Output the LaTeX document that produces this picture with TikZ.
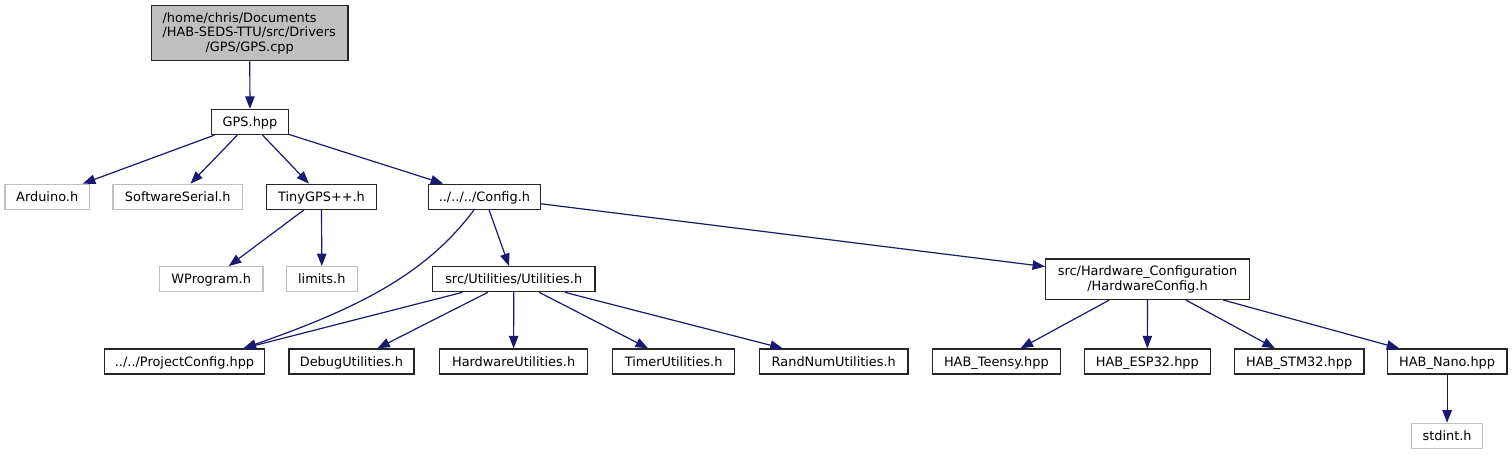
\documentclass[tikz,border=0pt]{standalone}
\usepackage{fontspec}
\setmainfont{DejaVu Sans}
\usetikzlibrary{arrows.meta,calc}
\definecolor{edgec}{HTML}{191970}
\definecolor{greyl}{HTML}{BFBFBF}
\begin{document}
\begin{tikzpicture}[x=1pt,y=-1pt,
  every node/.style={font=\fontsize{12.9}{14.5}\selectfont},
  box/.style={draw=black!85,line width=1.3pt,rectangle,inner sep=0pt,minimum height=25pt,text height=12.2pt,text depth=3pt},
  ext/.style={box,draw=greyl},
  txt/.style={inner sep=0pt},
  link/.style={draw=edgec,line width=1.2pt,-{Triangle[length=12.5pt,width=9.5pt]}}]
\fill[white] (0,0) rectangle (1512,455);
\useasboundingbox (0,0) rectangle (1512,455);

% root
\node[box,fill=greyl,minimum width=196.5pt,minimum height=55pt] (cpp) at (249.7,33.2) {};
\node[txt,anchor=base west] (cppa) at ($(cpp.north west)+(11.6,17)$) {/home/chris/Documents};
\node[txt,anchor=base west] (cppb) at ($(cpp.north west)+(11.6,31.5)$) {/HAB-SEDS-TTU/src/Drivers};
\node[txt,anchor=base] (cppc) at ($(cpp.north)+(0,46)$) {/GPS/GPS.cpp};

\node[box,minimum width=76.6pt] (gpsh) at (250,122) {GPS.hpp};

% row 2
\node[ext,minimum width=84.4pt] (ard) at (47.2,196.8) {Arduino.h};
\node[ext,minimum width=129.7pt] (ss) at (177.8,196.8) {SoftwareSerial.h};
\node[box,minimum width=109.8pt] (tiny) at (321.5,196.8) {TinyGPS++.h};
\node[box,minimum width=111.6pt] (cfg) at (484.4,196.8) {../../../Config.h};

% row 3
\node[ext,minimum width=103.8pt] (wprog) at (211.2,279.2) {WProgram.h};
\node[ext,minimum width=70.9pt] (lim) at (321.8,279.2) {limits.h};
\node[box,minimum width=162.5pt] (util) at (513.7,279.2) {src/Utilities/Utilities.h};
\node[box,minimum width=203.6pt,minimum height=40.3pt,align=center,text height=,text depth=] (hc) at (1147.5,279.2) {src/Hardware\_Configuration\\/HardwareConfig.h};

% row 4
\node[box,minimum width=160.4pt] (proj) at (184.5,361.5) {../../ProjectConfig.hpp};
\node[box,minimum width=125pt] (dbg) at (351.5,361.5) {DebugUtilities.h};
\node[box,minimum width=148.2pt] (hwu) at (513.6,361.5) {HardwareUtilities.h};
\node[box,minimum width=122.3pt] (tim) at (673.6,361.5) {TimerUtilities.h};
\node[box,minimum width=148.2pt] (rnd) at (833.8,361.5) {RandNumUtilities.h};
\node[box,minimum width=127.9pt] (teen) at (996.4,361.5) {HAB\_Teensy.hpp};
\node[box,minimum width=125.7pt] (esp) at (1147.3,361.5) {HAB\_ESP32.hpp};
\node[box,minimum width=129.4pt] (stm) at (1299.2,361.5) {HAB\_STM32.hpp};
\node[box,minimum width=119.7pt] (nano) at (1447.1,361.5) {HAB\_Nano.hpp};

% row 5
\node[ext,minimum width=71pt] (std) at (1447.1,435.8) {stdint.h};

\coordinate (projin) at ($(proj.north)+(59,0)$);

% edges
\draw[link] (cpp) -- (gpsh);
\draw[link] (gpsh) -- (ard);
\draw[link] (gpsh) -- (ss);
\draw[link] (gpsh) -- (tiny);
\draw[link] (gpsh) -- (cfg);
\draw[link] (tiny) -- (wprog);
\draw[link] (tiny) -- (lim);
\draw[link] ($(cfg.south)+(-10.4,0)$) .. controls ($(cfg.south)+(-59.4,65.7)$) and ($(proj.north)+(170.5,-39)$) .. (projin);
\draw[link] (cfg) -- (util);
\draw[link] (cfg) -- (hc);
\draw[link] (util) -- (projin);
\draw[link] (util) -- (dbg);
\draw[link] (util) -- (hwu);
\draw[link] (util) -- (tim);
\draw[link] (util) -- (rnd);
\draw[link] (hc) -- (teen);
\draw[link] (hc) -- (esp);
\draw[link] (hc) -- (stm);
\draw[link] (hc) -- (nano);
\draw[link] (nano) -- (std);
\end{tikzpicture}
\end{document}
